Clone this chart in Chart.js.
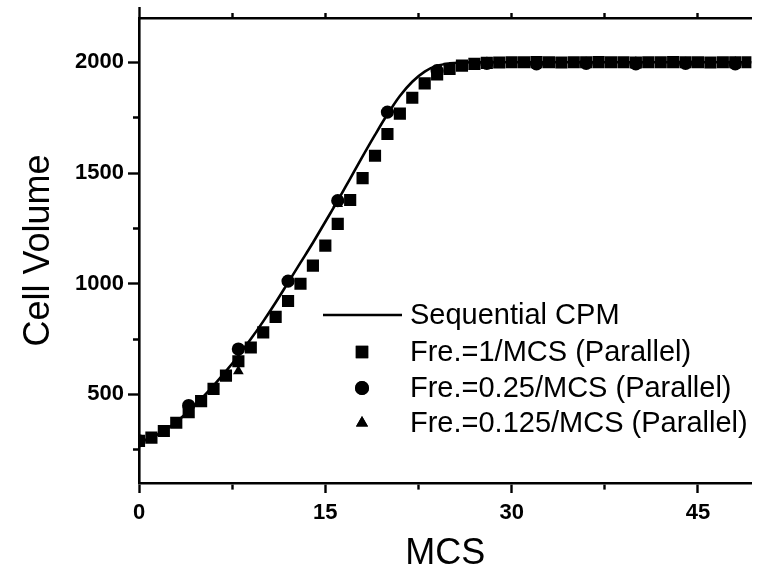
<!DOCTYPE html>
<html>
<head>
<meta charset="utf-8">
<script src="https://cdn.jsdelivr.net/npm/chart.js@4.4.1/dist/chart.umd.min.js"></script>
<style>
  html, body { margin: 0; padding: 0; background: #ffffff; overflow: hidden; }
  #wrap { width: 760px; height: 582px; }
</style>
</head>
<body>
<div id="wrap"><canvas id="c" width="760" height="582"></canvas></div>
<script>
// ---------- data ----------
const seriesNames = [
  'Sequential CPM',
  'Fre.=1/MCS (Parallel)',
  'Fre.=0.25/MCS (Parallel)',
  'Fre.=0.125/MCS (Parallel)'
];

// Sequential CPM (solid line)
const lineMCS = [0,1,2,3,4,5,6,7,8,9,10,11,12,13,14,15,16,17,18,19,20,21,22,23,24,25,26,27,28,29,30,31,32,33,34,35,36,37,38,39,40,41,42,43,44,45,46,47,48,49,50];
const lineValues = [285,305,335,375,425,480,540,605,675,750,830,915,1005,1095,1185,1280,1375,1475,1575,1672,1765,1848,1912,1958,1984,1995,1999,2000,2000,2000,2000,2000,2000,2000,2000,2000,2000,2000,2000,2000,2000,2000,2000,2000,2000,2000,2000,2000,2000,2000,2000];

// Fre.=1/MCS (squares)
const squareMCS = [0,1,2,3,4,5,6,7,8,9,10,11,12,13,14,15,16,17,18,19,20,21,22,23,24,25,26,27,28,29,30,31,32,33,34,35,36,37,38,39,40,41,42,43,44,45,46,47,48,49];
const squareValues = [290,305,335,372,420,470,525,585,650,712,780,850,922,1000,1082,1172,1270,1378,1477,1578,1676,1768,1840,1905,1945,1970,1985,1993,1997,1999,2000,2000,2001,2000,1999,2000,2000,2001,2000,2000,1999,2000,2000,2001,2000,2000,1999,2000,2000,2000];

// Fre.=0.25/MCS (circles)
const circleMCS = [0,4,8,12,16,20,24,28,32,36,40,44,48];
const circleValues = [290,450,705,1012,1375,1775,1962,1995,1993,1995,1993,1995,1993];

// Fre.=0.125/MCS (triangles)
const triangleMCS = [0,8,16,24,32,40,48];
const triangleValues = [290,605,1360,1955,2000,2000,2000];

// axis ticks
const xTickValues = [0,7.5,15,22.5,30,37.5,45];
const xLabelEvery = 15;
const yTickValues = [250,500,750,1000,1250,1500,1750,2000];
const yLabelEvery = 500;
const xMin = 0, xMax = 49.3;
const yMin = 100, yMax = 2200;

// ---------- build datasets ----------
const pts = (xs, ys) => xs.map((x, i) => ({ x: x, y: ys[i] }));
const BLACK = '#000000';

const datasets = [
  { label: seriesNames[0], data: pts(lineMCS, lineValues), showLine: true, borderColor: BLACK,
    borderWidth: 2.6, pointRadius: 0, cubicInterpolationMode: 'monotone', pointStyle: 'line', order: 0 },
  { label: seriesNames[1], data: pts(squareMCS, squareValues), showLine: false, pointStyle: 'rect',
    pointRadius: 8.6, backgroundColor: BLACK, borderColor: BLACK, borderWidth: 0, order: 3 },
  { label: seriesNames[2], data: pts(circleMCS, circleValues), showLine: false, pointStyle: 'circle',
    pointRadius: 6.6, backgroundColor: BLACK, borderColor: BLACK, borderWidth: 0, order: 2 },
  { label: seriesNames[3], data: pts(triangleMCS, triangleValues), showLine: false, pointStyle: 'triangle',
    pointRadius: 6.2, backgroundColor: BLACK, borderColor: BLACK, borderWidth: 0, order: 1 }
];

const FONT = "'Liberation Sans', Arial, Helvetica, sans-serif";

// legend drawn inside the plot area
const legendPlugin = {
  id: 'insideLegend',
  afterDatasetsDraw(chart) {
    const ctx = chart.ctx;
    const rows = [315, 352, 388, 423];
    const markX = 362, textX = 410;
    ctx.save();
    ctx.fillStyle = BLACK; ctx.strokeStyle = BLACK;
    ctx.font = "29px " + FONT;
    ctx.textBaseline = 'middle';
    chart.data.datasets.forEach((ds, i) => {
      const y = rows[i];
      if (i === 0) {
        ctx.lineWidth = 2.6;
        ctx.beginPath(); ctx.moveTo(323, y); ctx.lineTo(402, y); ctx.stroke();
      } else {
        const r = i === 1 ? 8.8 : (i === 2 ? 7 : 7);
        Chart.helpers.drawPoint(ctx, { pointStyle: ds.pointStyle, radius: r, borderWidth: 0, rotation: 0 }, markX, y);
        ctx.fill();
      }
      ctx.fillText(ds.label, textX, y + 1);
    });
    ctx.restore();
  }
};

new Chart(document.getElementById('c'), {
  type: 'scatter',
  data: { datasets: datasets },
  options: {
    responsive: false,
    animation: false,
    devicePixelRatio: 1,
    layout: { padding: 0 },
    plugins: { legend: { display: false }, tooltip: { enabled: false } },
    scales: {
      x: {
        type: 'linear', position: 'bottom', min: xMin, max: xMax,
        afterBuildTicks: s => { s.ticks = xTickValues.map(v => ({ value: v })); },
        afterFit: s => { s.height = 99; },
        border: { display: true, color: BLACK, width: 2.6 },
        grid: {
          drawOnChartArea: false, drawTicks: true, tickLength: 10, tickWidth: 2.4, tickColor: BLACK,
          tickBorderDash: c => (c.tick && c.tick.value % xLabelEvery === 0) ? [] : [5, 40]
        },
        ticks: {
          autoSkip: false, maxRotation: 0, padding: 7, color: BLACK,
          font: { family: FONT, size: 22, weight: 'bold' },
          callback: v => (v % xLabelEvery === 0 ? String(v) : '')
        },
        title: { display: true, text: 'MCS', color: BLACK, font: { family: FONT, size: 36 }, padding: { top: 0, bottom: 6 } }
      },
      x2: {
        type: 'linear', position: 'top', min: xMin, max: xMax,
        afterBuildTicks: s => { s.ticks = xTickValues.map(v => ({ value: v })); },
        afterFit: s => { s.height = 18; },
        border: { display: true, color: BLACK, width: 2.6 },
        grid: {
          drawOnChartArea: false, drawTicks: true, tickLength: 11, tickWidth: 2.4, tickColor: BLACK,
          tickBorderDash: c => (c.tick && c.tick.value === 0) ? [] : [0, 6, 5, 40]
        },
        ticks: { autoSkip: false, maxRotation: 0, callback: () => '' , font: { size: 1 } }
      },
      y: {
        type: 'linear', position: 'left', min: yMin, max: yMax,
        afterBuildTicks: s => { s.ticks = yTickValues.map(v => ({ value: v })); },
        afterFit: s => { s.width = 139; },
        border: { display: true, color: BLACK, width: 2.6 },
        grid: {
          drawOnChartArea: false, drawTicks: true, tickLength: 11, tickWidth: 2.4, tickColor: BLACK,
          tickBorderDash: c => (c.tick && c.tick.value % yLabelEvery === 0) ? [] : [0, 5, 6, 40]
        },
        ticks: {
          autoSkip: false, padding: 4, color: BLACK,
          font: { family: FONT, size: 22, weight: 'bold' },
          callback: v => (v % yLabelEvery === 0 ? String(v) : '')
        },
        title: { display: true, text: 'Cell Volume', color: BLACK, font: { family: FONT, size: 36 }, padding: { top: 17, bottom: 0 } }
      }
    }
  },
  plugins: [legendPlugin]
});
</script>
</body>
</html>
